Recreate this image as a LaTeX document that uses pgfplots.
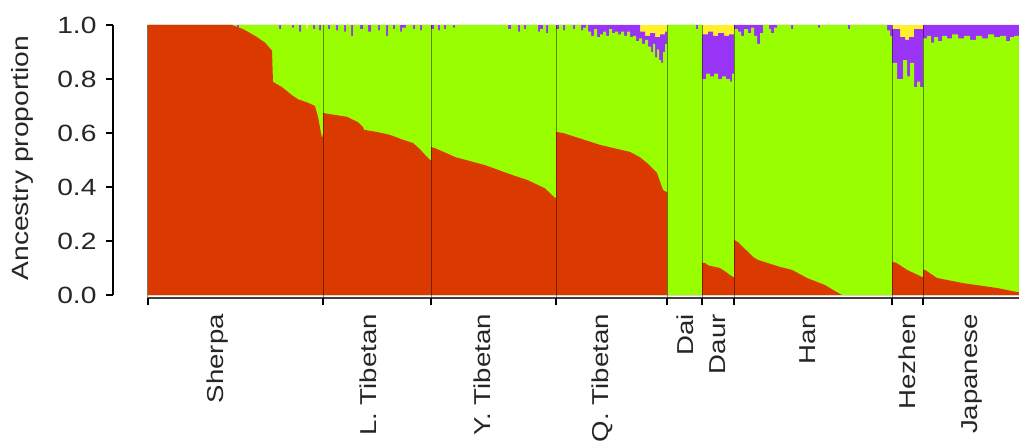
\documentclass[border=0pt]{standalone}
\usepackage{fontspec}
\setmainfont{Liberation Sans}[FakeStretch=1.2]
\usepackage{pgfplots}
\pgfplotsset{compat=1.18}
\definecolor{cRed}{HTML}{DA3A00}
\definecolor{cGreen}{HTML}{99FF00}
\definecolor{cPurple}{HTML}{9933F5}
\definecolor{cYellow}{HTML}{FFF02A}
\newcommand\lbl{\fontsize{23bp}{28bp}\selectfont}
\tikzset{grp/.style={rotate=90, anchor=east, inner sep=0pt, font=\lbl, text=black!85}}
\begin{document}
\begin{tikzpicture}
\begin{axis}[
  scale only axis, width=906bp, height=273bp,
  xmin=-35, xmax=871, ymin=-0.0111, ymax=1,
  clip=false, no markers,
  axis line style={draw=none},
  axis on top,
  tick pos=left, tick align=outside,
  major tick length=7bp,
  tick style={black, line width=1.8bp},
  xtick={0,175,283,408,519,554,586,744,775},
  xticklabels={},
  xmajorgrids, grid style={black, opacity=0.45, line width=1bp},
  ytick={0,0.2,0.4,0.6,0.8,1},
  yticklabel style={anchor=east, xshift=-6bp, font=\fontsize{23.5bp}{28bp}\selectfont, text=black!85,
    /pgf/number format/fixed, /pgf/number format/fixed zerofill,
    /pgf/number format/precision=1, /pgf/number format/assume math mode=true},
]
% yellow (top component) as background
\addplot[draw=none, fill=cYellow] coordinates {(0,1) (871,1)} \closedcycle;
% purple: top of purple band (1 - yellow)
\addplot[const plot, draw=none, fill=cPurple] coordinates {
(0,1)(155,0.975)(162,1)(492,0.975)(497,0.96)(502,0.97)(507,0.955)(512,0.965)(517,0.975)(519,1)
(554,0.965)(560,0.975)(565,0.96)(570,0.97)(576,0.96)(581,0.965)(586,1)
(744,0.985)(752,0.955)(757,0.945)(761,0.955)(766,0.985)(775,1)(871,1)} \closedcycle;
% green: top of green band
\addplot[const plot, draw=none, fill=cGreen] coordinates {
(0,1)(88,1)(89,0.985)(91,1)(130,1)(131,0.985)(133,1)(144,0.99)(146,1)(151,0.975)(153,1)(158,0.985)(160,1)(165,0.985)(167,1)(171,0.98)(173,1)
(175,1)(180,0.985)(182,1)(188,0.98)(190,1)(196,0.975)(198,1)(203,0.96)(205,1)(212,0.985)(215,1)(220,0.975)(223,1)(230,0.98)(232,1)(238,0.96)(240,1)(245,0.985)(247,1)(252,0.975)(254,0.99)(258,1)(265,0.985)(267,1)(272,0.98)(274,1)
(283,0.985)(286,1)(290,0.98)(292,1)(296,0.985)(298,1)(305,0.99)(307,1)(330,1)(360,0.985)(363,1)(370,0.975)(372,1)(376,0.985)(378,1)(390,0.975)(392,0.985)(395,1)(398,0.97)(400,1)
(408,0.985)(411,1)(415,0.98)(417,1)(425,0.985)(427,1)(433,0.98)(435,0.99)(438,1)(440,0.975)(443,0.96)(446,0.985)(449,0.955)(452,0.965)(455,0.975)(458,0.96)(461,0.985)(464,0.97)(467,0.975)(470,0.965)(473,0.975)(476,0.96)(479,0.975)(482,0.955)(485,0.96)(488,0.94)(491,0.95)(494,0.93)(497,0.945)(500,0.92)(503,0.9)(505,0.93)(507,0.88)(509,0.91)(511,0.87)(513,0.86)(515,0.9)(517,0.93)
(519,1)(548,0.985)(550,1)
(554,0.80)(558,0.82)(562,0.81)(566,0.82)(570,0.80)(574,0.81)(578,0.80)(582,0.79)(584,0.82)
(586,0.985)(590,0.975)(593,0.96)(596,0.985)(600,0.97)(603,0.99)(606,0.96)(609,0.93)(612,0.97)(615,1)(621,0.985)(623,0.97)(626,0.99)(629,1)(643,0.985)(645,1)(670,0.99)(672,1)(700,0.985)(702,1)(739,0.98)(742,0.96)
(744,0.86)(749,0.80)(755,0.87)(759,0.81)(762,0.86)(766,0.77)(769,0.79)(772,0.77)
(775,0.95)(779,0.96)(783,0.935)(786,0.955)(790,0.94)(794,0.96)(799,0.95)(804,0.965)(810,0.95)(816,0.96)(822,0.945)(828,0.96)(834,0.95)(840,0.965)(846,0.955)(852,0.96)(858,0.94)(862,0.955)(866,0.96)(871,0.96)} \closedcycle;
% red: bottom component
\addplot[draw=none, fill=cRed] coordinates {
(0,1)(84,1)(95,0.985)(107,0.96)(117,0.935)(124,0.905)(125,0.79)(127,0.785)(134,0.77)(144,0.74)(150,0.725)(160,0.712)(167,0.70)(170,0.66)(174,0.58)(175,0.60)
(175,0.674)(185,0.668)(199,0.66)(210,0.64)(215,0.622)(216,0.612)(230,0.603)(242,0.593)(255,0.575)(265,0.563)(272,0.54)(278,0.515)(282,0.5)(283,0.5)
(283,0.548)(287,0.544)(307,0.511)(337,0.481)(360,0.45)(380,0.425)(397,0.395)(404,0.37)(407,0.36)(408,0.36)
(408,0.604)(415,0.60)(437,0.574)(452,0.556)(482,0.53)(492,0.51)(499,0.489)(509,0.452)(513,0.41)(515,0.389)(519,0.38)
(519,0)(554,0)
(554,0.119)(557,0.119)(560,0.11)(572,0.1)(578,0.085)(582,0.074)(586,0.065)
(586,0.204)(590,0.196)(605,0.141)(610,0.13)(632,0.104)(644,0.093)(659,0.063)(677,0.037)(685,0.019)(694,0)(744,0)
(744,0.122)(748,0.12)(759,0.093)(774,0.067)(775,0.067)
(775,0.093)(777,0.093)(789,0.063)(815,0.044)(849,0.026)(869,0.011)(871,0.01)} \closedcycle;
% axis lines
\draw[black, line width=2bp] (axis cs:-35,0) -- (axis cs:-35,1);
\draw[black!75, line width=2bp] (axis cs:0,-0.0111) -- (axis cs:871,-0.0111);
% labels
\node[rotate=90, font=\fontsize{23.5bp}{28bp}\selectfont, text=black!85] at (axis cs:-126,0.507) {Ancestry proportion};
\node[grp] at ([yshift=-16bp]axis cs:70,-0.0111) {Sherpa};
\node[grp] at ([yshift=-16bp]axis cs:220,-0.0111) {L. Tibetan};
\node[grp] at ([yshift=-16bp]axis cs:334,-0.0111) {Y. Tibetan};
\node[grp] at ([yshift=-16bp]axis cs:454,-0.0111) {Q. Tibetan};
\node[grp] at ([yshift=-16bp]axis cs:537,-0.0111) {Dai};
\node[grp] at ([yshift=-16bp]axis cs:570,-0.0111) {Daur};
\node[grp] at ([yshift=-16bp]axis cs:660,-0.0111) {Han};
\node[grp] at ([yshift=-16bp]axis cs:759,-0.0111) {Hezhen};
\node[grp] at ([yshift=-16bp]axis cs:824,-0.0111) {Japanese};
\end{axis}
\pgfresetboundingbox
\path[use as bounding box] (-113bp,-144bp) rectangle (906bp,298bp);
\end{tikzpicture}
\end{document}
